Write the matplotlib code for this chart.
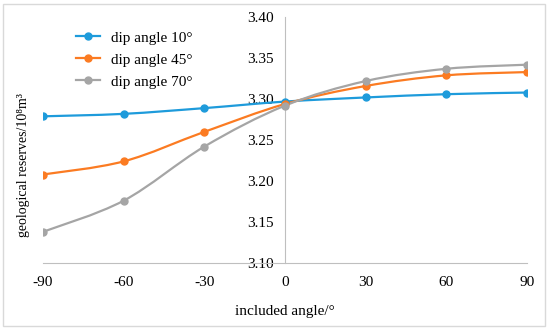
import numpy as np
import matplotlib
matplotlib.use('Agg')
import matplotlib.pyplot as plt
from matplotlib.path import Path
from matplotlib.patches import PathPatch, Rectangle
from matplotlib.lines import Line2D

angles = [-90, -60, -30, 0, 30, 60, 90]
dip10 = [3.279, 3.282, 3.289, 3.297, 3.302, 3.306, 3.308]
dip45 = [3.208, 3.224, 3.260, 3.294, 3.316, 3.329, 3.333]
dip70 = [3.138, 3.176, 3.242, 3.292, 3.322, 3.337, 3.342]

series = [
    ('dip angle 10°', dip10, '#1E9BDB'),
    ('dip angle 45°', dip45, '#FB7B22'),
    ('dip angle 70°', dip70, '#A5A5A5'),
]

plt.rcParams['font.family'] = ['Liberation Serif', 'DejaVu Serif']
plt.rcParams['axes.unicode_minus'] = False


def smooth_path(x, y, k=1/6):
    # Excel-style smoothed line as cubic Bezier segments
    x = np.asarray(x, float)
    y = np.asarray(y, float)
    n = len(x)
    verts = [(x[0], y[0])]
    codes = [Path.MOVETO]
    for i in range(n - 1):
        i0 = max(i - 1, 0)
        i3 = min(i + 2, n - 1)
        c1 = (x[i] + (x[i + 1] - x[i0]) * k, y[i] + (y[i + 1] - y[i0]) * k)
        c2 = (x[i + 1] - (x[i3] - x[i]) * k, y[i + 1] - (y[i3] - y[i]) * k)
        verts += [c1, c2, (x[i + 1], y[i + 1])]
        codes += [Path.CURVE4] * 3
    return Path(verts, codes)


fig = plt.figure(figsize=(5.5, 3.3), dpi=100)
ax = fig.add_axes([0.078, 0.203, 0.880, 0.745])

handles = []
for label, vals, color in series:
    ax.add_patch(PathPatch(smooth_path(angles, vals), fill=False,
                           edgecolor=color, lw=1.6, zorder=3))
    ax.plot(angles, vals, 'o', color=color, ms=5, zorder=4)
    handles.append(Line2D([], [], color=color, lw=1.6, marker='o', ms=5,
                          label=label))

ax.set_xlim(-90, 90)
ax.set_ylim(3.10, 3.40)
ax.set_xticks(angles)
ax.set_yticks(np.arange(3.10, 3.401, 0.05))
ax.set_yticklabels([f'{v:.2f}' for v in np.arange(3.10, 3.401, 0.05)])

for s in ['top', 'right']:
    ax.spines[s].set_visible(False)
ax.spines['left'].set_position(('data', 0))
ax.spines['left'].set_color('#BFBFBF')
ax.spines['bottom'].set_color('#BFBFBF')
ax.tick_params(axis='both', length=0, labelsize=11)
ax.tick_params(axis='x', pad=9)
ax.tick_params(axis='y', pad=8)

ax.set_xlabel('included angle/°', fontsize=11, labelpad=12)
fig.text(0.043, 0.50, 'geological reserves/10⁸m³', rotation=90,
         ha='center', va='center', fontsize=10)

ax.legend(handles=handles, loc='upper left', bbox_to_anchor=(0.04, 1.0),
          frameon=False, fontsize=11, handlelength=1.6, handletextpad=0.7,
          labelspacing=0.55)

fig.patches.append(Rectangle((0.006, 0.012), 0.985, 0.975,
                             transform=fig.transFigure, fill=False,
                             edgecolor='#D9D9D9', lw=1))

fig.savefig('out.png', dpi=100)
